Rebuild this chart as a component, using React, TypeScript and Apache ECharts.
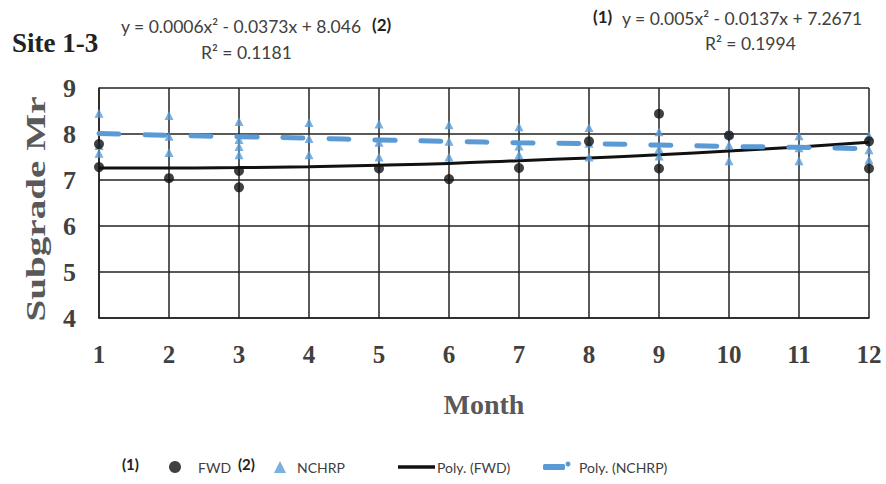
import React, { useEffect, useRef } from "react";
import * as echarts from "echarts";

const months = [1, 2, 3, 4, 5, 6, 7, 8, 9, 10, 11, 12];

const fwdMonths = [1, 1, 2, 3, 3, 5, 6, 7, 8, 9, 9, 10, 12, 12];
const fwdValues = [7.28, 7.78, 7.04, 7.2, 6.84, 7.25, 7.02, 7.26, 7.84, 8.44, 7.25, 7.97, 7.25, 7.84];

const nchrpMonths = [1, 1, 1, 2, 2, 2, 3, 3, 3, 3, 4, 4, 4, 5, 5, 5, 6, 6, 6, 7, 7, 7, 8, 8, 8, 9, 9, 9, 10, 10, 10, 11, 11, 11, 12, 12, 12];
const nchrpValues = [8.45, 7.75, 7.58, 8.4, 7.95, 7.6, 8.27, 7.88, 7.73, 7.55, 8.25, 7.9, 7.55, 8.22, 7.82, 7.5, 8.2, 7.84, 7.5, 8.16, 7.74, 7.55, 8.14, 7.8, 7.5, 8.05, 7.68, 7.52, 8.0, 7.76, 7.42, 7.96, 7.7, 7.42, 7.96, 7.66, 7.44];

const fwdTrend = [7.26, 7.26, 7.27, 7.29, 7.32, 7.36, 7.42, 7.48, 7.55, 7.63, 7.72, 7.82];
const nchrpTrend = [8.01, 7.97, 7.94, 7.91, 7.87, 7.84, 7.81, 7.79, 7.76, 7.73, 7.71, 7.68];

const yTicks = [4, 5, 6, 7, 8, 9];

const BLUE = "#5B9BD5";
const SERIF = "'Liberation Serif', 'Times New Roman', serif";
const SANS = "Lato, 'Open Sans', sans-serif";

export default function App() {
  const ref = useRef<HTMLDivElement>(null);
  useEffect(() => {
    if (!ref.current) return;
    const chart = echarts.init(ref.current, null, { renderer: "svg" });
    const legendText = { fontFamily: SANS, fontSize: 14, color: "#404040" };
    const option: any = {
      animation: false,
      backgroundColor: "#fff",
      grid: { left: 99, right: 17, top: 88, bottom: 166 },
      xAxis: {
        type: "value",
        min: months[0],
        max: months[months.length - 1],
        interval: 1,
        name: "Month",
        nameLocation: "middle",
        nameGap: 72,
        nameTextStyle: { fontFamily: SERIF, fontWeight: "bold", fontSize: 28, color: "#595959" },
        axisLine: { show: true, lineStyle: { color: "#222", width: 1.5 } },
        axisTick: { show: false },
        axisLabel: { fontFamily: SERIF, fontWeight: "bold", fontSize: 25, color: "#404040", margin: 24 },
        splitLine: { show: true, lineStyle: { color: "#222", width: 1.5 } },
      },
      yAxis: {
        type: "value",
        min: yTicks[0],
        max: yTicks[yTicks.length - 1],
        interval: 1,
        axisLine: { show: true, lineStyle: { color: "#222", width: 1.5 } },
        axisTick: { show: false },
        axisLabel: { fontFamily: SERIF, fontWeight: "bold", fontSize: 26, color: "#404040", margin: 23 },
        splitLine: { show: true, lineStyle: { color: "#222", width: 1.5 } },
      },
      legend: [
        {
          data: ["FWD"],
          left: 164,
          top: 455,
          itemWidth: 12,
          itemHeight: 12,
          textStyle: { ...legendText, padding: [0, 0, 0, 12] },
        },
        {
          data: ["NCHRP"],
          left: 269,
          top: 455,
          itemWidth: 12,
          itemHeight: 12,
          textStyle: { ...legendText, padding: [0, 0, 0, 6] },
        },
        {
          data: [{ name: "Poly. (FWD)", icon: "rect" }],
          left: 393,
          top: 455,
          itemWidth: 37,
          itemHeight: 3.5,
          textStyle: { ...legendText, padding: [0, 0, 0, -3] },
        },
        {
          data: [{ name: "Poly. (NCHRP)", icon: "roundRect" }],
          left: 538,
          top: 455,
          itemWidth: 22,
          itemHeight: 6,
          textStyle: { ...legendText, padding: [0, 0, 0, 9] },
        },
      ],
      graphic: [
        {
          type: "text",
          left: 12,
          top: 29,
          style: { text: "Site 1-3", font: `bold 27px ${SERIF}`, fill: "#222" },
        },
        {
          type: "text",
          left: 121,
          top: 17,
          style: { text: "y = 0.0006x² - 0.0373x + 8.046", font: `17.5px ${SANS}`, fill: "#404040" },
        },
        {
          type: "text",
          left: 372,
          top: 16,
          style: { text: "(2)", font: `bold 17px ${SANS}`, fill: "#222" },
        },
        {
          type: "text",
          left: 201,
          top: 43,
          style: { text: "R² = 0.1181", font: `17.5px ${SANS}`, fill: "#404040" },
        },
        {
          type: "text",
          left: 593,
          top: 8,
          style: { text: "(1)", font: `bold 17px ${SANS}`, fill: "#222" },
        },
        {
          type: "text",
          left: 622,
          top: 9,
          style: { text: "y = 0.005x² - 0.0137x + 7.2671", font: `17.5px ${SANS}`, fill: "#404040" },
        },
        {
          type: "text",
          left: 705,
          top: 34,
          style: { text: "R² = 0.1994", font: `17.5px ${SANS}`, fill: "#404040" },
        },
        {
          type: "text",
          x: 36,
          y: 209,
          rotation: Math.PI / 2,
          scaleX: 1.45,
          style: {
            text: "Subgrade Mr",
            font: `bold 27px ${SERIF}`,
            fill: "#595959",
            align: "center",
            verticalAlign: "middle",
          },
        },
        {
          type: "text",
          left: 122,
          top: 456,
          style: { text: "(1)", font: `bold 15px ${SANS}`, fill: "#222" },
        },
        {
          type: "text",
          left: 238,
          top: 456,
          style: { text: "(2)", font: `bold 15px ${SANS}`, fill: "#222" },
        },
        {
          type: "circle",
          shape: { cx: 568, cy: 464, r: 2.5 },
          style: { fill: BLUE },
        },
      ],
      series: [
        {
          name: "Poly. (FWD)",
          type: "line",
          smooth: true,
          showSymbol: false,
          symbol: "none",
          data: months.map((m, i) => [m, fwdTrend[i]]),
          lineStyle: { color: "#111", width: 3 },
          itemStyle: { color: "#111" },
          z: 2,
        },
        {
          name: "Poly. (NCHRP)",
          type: "line",
          smooth: true,
          showSymbol: false,
          symbol: "none",
          data: months.map((m, i) => [m, nchrpTrend[i]]),
          lineStyle: { color: BLUE, width: 5, type: [20, 26], cap: "round" },
          itemStyle: { color: BLUE },
          z: 3,
        },
        {
          name: "NCHRP",
          type: "scatter",
          symbol: "triangle",
          symbolSize: 9,
          data: nchrpMonths.map((m, i) => [m, nchrpValues[i]]),
          itemStyle: { color: BLUE },
          z: 4,
        },
        {
          name: "FWD",
          type: "scatter",
          symbol: "circle",
          symbolSize: 10,
          data: fwdMonths.map((m, i) => [m, fwdValues[i]]),
          itemStyle: { color: "#111" },
          z: 5,
        },
      ],
    };
    chart.setOption(option);
    return () => chart.dispose();
  }, []);
  return <div ref={ref} style={{ width: 886, height: 484, position: "absolute", left: 0, top: 0 }} />;
}
